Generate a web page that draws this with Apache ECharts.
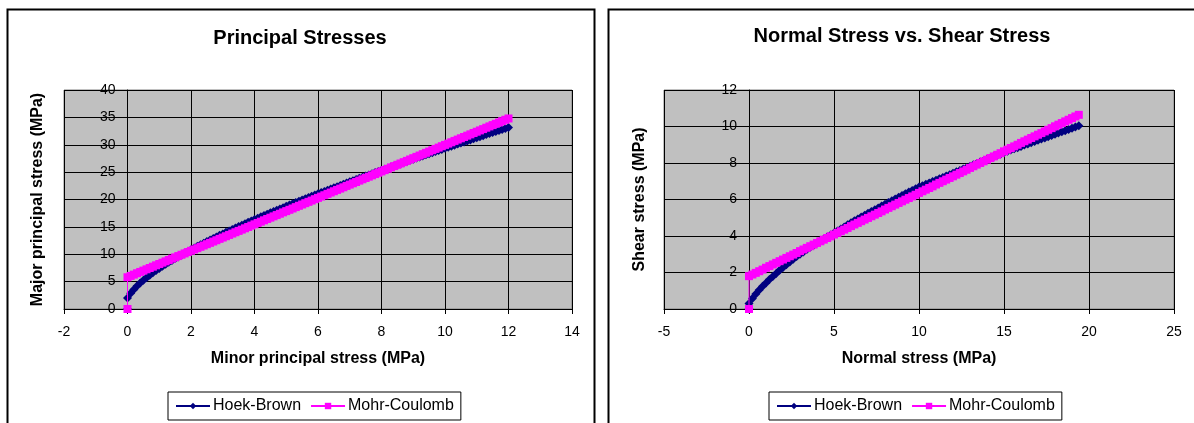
<!DOCTYPE html>
<html>
<head>
<meta charset="utf-8">
<script src="https://cdn.jsdelivr.net/npm/echarts@6/dist/echarts.min.js"></script>
<style>
html,body{margin:0;padding:0;background:#fff;}
#c{width:1194px;height:423px;}
</style>
</head>
<body>
<div id="c"></div>
<script>
// ---- Left chart: Principal Stresses (first point of each series is the origin) ----
var minorStress = [0, 0, 0.1, 0.2, 0.3, 0.4, 0.5, 0.6, 0.7, 0.8, 0.9,
  1.0, 1.1, 1.2, 1.3, 1.4, 1.5, 1.6, 1.7, 1.8, 1.9,
  2.0, 2.1, 2.2, 2.3, 2.4, 2.5, 2.6, 2.7, 2.8, 2.9,
  3.0, 3.1, 3.2, 3.3, 3.4, 3.5, 3.6, 3.7, 3.8, 3.9,
  4.0, 4.1, 4.2, 4.3, 4.4, 4.5, 4.6, 4.7, 4.8, 4.9,
  5.0, 5.1, 5.2, 5.3, 5.4, 5.5, 5.6, 5.7, 5.8, 5.9,
  6.0, 6.1, 6.2, 6.3, 6.4, 6.5, 6.6, 6.7, 6.8, 6.9,
  7.0, 7.1, 7.2, 7.3, 7.4, 7.5, 7.6, 7.7, 7.8, 7.9,
  8.0, 8.1, 8.2, 8.3, 8.4, 8.5, 8.6, 8.7, 8.8, 8.9,
  9.0, 9.1, 9.2, 9.3, 9.4, 9.5, 9.6, 9.7, 9.8, 9.9,
  10.0, 10.1, 10.2, 10.3, 10.4, 10.5, 10.6, 10.7, 10.8, 10.9,
  11.0, 11.1, 11.2, 11.3, 11.4, 11.5, 11.6, 11.7, 11.8, 11.9, 12.0];
var hbMajor = [0, 2.00, 2.87, 3.58, 4.19, 4.74, 5.24, 5.72, 6.17, 6.60, 7.01,
  7.40, 7.79, 8.16, 8.52, 8.87, 9.21, 9.55, 9.88, 10.20, 10.52,
  10.83, 11.14, 11.44, 11.74, 12.03, 12.32, 12.61, 12.89, 13.17, 13.45,
  13.72, 14.00, 14.26, 14.53, 14.79, 15.05, 15.31, 15.57, 15.83, 16.08,
  16.33, 16.58, 16.83, 17.07, 17.32, 17.56, 17.80, 18.04, 18.28, 18.51,
  18.75, 18.98, 19.21, 19.45, 19.68, 19.91, 20.13, 20.36, 20.59, 20.81,
  21.03, 21.26, 21.48, 21.70, 21.92, 22.14, 22.35, 22.57, 22.79, 23.00,
  23.22, 23.43, 23.64, 23.86, 24.07, 24.28, 24.49, 24.70, 24.91, 25.11,
  25.32, 25.53, 25.73, 25.94, 26.14, 26.35, 26.55, 26.75, 26.96, 27.16,
  27.36, 27.56, 27.76, 27.96, 28.16, 28.35, 28.55, 28.75, 28.95, 29.14,
  29.34, 29.53, 29.73, 29.92, 30.12, 30.31, 30.51, 30.70, 30.89, 31.08,
  31.27, 31.46, 31.66, 31.85, 32.04, 32.22, 32.41, 32.60, 32.79, 32.98, 33.17];
var mcMajor = [0, 5.80, 6.04, 6.28, 6.53, 6.77, 7.01, 7.25, 7.49, 7.73, 7.98,
  8.22, 8.46, 8.70, 8.95, 9.19, 9.43, 9.67, 9.91, 10.15, 10.40,
  10.63, 10.87, 11.11, 11.36, 11.60, 11.84, 12.08, 12.32, 12.56, 12.81,
  13.05, 13.29, 13.53, 13.78, 14.02, 14.26, 14.50, 14.74, 14.98, 15.23,
  15.47, 15.71, 15.95, 16.20, 16.44, 16.68, 16.92, 17.16, 17.40, 17.65,
  17.88, 18.12, 18.36, 18.61, 18.85, 19.09, 19.33, 19.57, 19.81, 20.06,
  20.30, 20.54, 20.78, 21.03, 21.27, 21.51, 21.75, 21.99, 22.23, 22.48,
  22.72, 22.96, 23.20, 23.45, 23.69, 23.93, 24.17, 24.41, 24.65, 24.90,
  25.13, 25.37, 25.61, 25.86, 26.10, 26.34, 26.58, 26.82, 27.06, 27.31,
  27.55, 27.79, 28.03, 28.28, 28.52, 28.76, 29.00, 29.24, 29.48, 29.73,
  29.97, 30.21, 30.45, 30.70, 30.94, 31.18, 31.42, 31.66, 31.90, 32.15,
  32.38, 32.62, 32.86, 33.11, 33.35, 33.59, 33.83, 34.07, 34.31, 34.56, 34.80];

// ---- Right chart: Normal Stress vs. Shear Stress (first point is the origin) ----
var normalStress = [0, 0, 0.2, 0.4, 0.6, 0.8, 1.0, 1.2, 1.4, 1.6, 1.8,
  2.0, 2.2, 2.4, 2.6, 2.8, 3.0, 3.2, 3.4, 3.6, 3.8,
  4.0, 4.2, 4.4, 4.6, 4.8, 5.0, 5.2, 5.4, 5.6, 5.8,
  6.0, 6.2, 6.4, 6.6, 6.8, 7.0, 7.2, 7.4, 7.6, 7.8,
  8.0, 8.2, 8.4, 8.6, 8.8, 9.0, 9.2, 9.4, 9.6, 9.8,
  10.0, 10.2, 10.4, 10.6, 10.8, 11.0, 11.2, 11.4, 11.6, 11.8,
  12.0, 12.2, 12.4, 12.6, 12.8, 13.0, 13.2, 13.4, 13.6, 13.8,
  14.0, 14.2, 14.4, 14.6, 14.8, 15.0, 15.2, 15.4, 15.6, 15.8,
  16.0, 16.2, 16.4, 16.6, 16.8, 17.0, 17.2, 17.4, 17.6, 17.8,
  18.0, 18.2, 18.4, 18.6, 18.8, 19.0, 19.2, 19.4];
var hbShear = [0, 0.30, 0.58, 0.82, 1.04, 1.24, 1.43, 1.61, 1.78, 1.95, 2.12,
  2.28, 2.43, 2.58, 2.73, 2.87, 3.00, 3.13, 3.26, 3.38, 3.50,
  3.62, 3.73, 3.84, 3.95, 4.06, 4.17, 4.28, 4.39, 4.50, 4.61,
  4.72, 4.83, 4.93, 5.04, 5.14, 5.24, 5.34, 5.44, 5.54, 5.64,
  5.74, 5.84, 5.93, 6.03, 6.12, 6.22, 6.31, 6.41, 6.50, 6.59,
  6.68, 6.76, 6.83, 6.91, 6.98, 7.06, 7.14, 7.21, 7.29, 7.36,
  7.44, 7.52, 7.59, 7.67, 7.74, 7.82, 7.90, 7.97, 8.05, 8.12,
  8.20, 8.28, 8.35, 8.43, 8.50, 8.58, 8.65, 8.71, 8.78, 8.84,
  8.91, 8.98, 9.04, 9.11, 9.18, 9.24, 9.31, 9.37, 9.44, 9.51,
  9.57, 9.64, 9.71, 9.77, 9.84, 9.90, 9.97, 10.04];
var mcShear = [0, 1.80, 1.89, 1.98, 2.07, 2.16, 2.26, 2.35, 2.44, 2.53, 2.62,
  2.71, 2.80, 2.89, 2.98, 3.07, 3.17, 3.26, 3.35, 3.44, 3.53,
  3.62, 3.71, 3.80, 3.89, 3.98, 4.08, 4.17, 4.26, 4.35, 4.44,
  4.54, 4.63, 4.72, 4.81, 4.90, 4.99, 5.08, 5.17, 5.26, 5.35,
  5.45, 5.54, 5.63, 5.72, 5.81, 5.90, 5.99, 6.08, 6.17, 6.26,
  6.36, 6.45, 6.54, 6.63, 6.72, 6.82, 6.91, 7.00, 7.09, 7.18,
  7.27, 7.36, 7.45, 7.54, 7.63, 7.73, 7.82, 7.91, 8.00, 8.09,
  8.18, 8.27, 8.36, 8.45, 8.54, 8.64, 8.73, 8.82, 8.91, 9.00,
  9.10, 9.19, 9.28, 9.37, 9.46, 9.55, 9.64, 9.73, 9.82, 9.91,
  10.01, 10.10, 10.19, 10.28, 10.37, 10.46, 10.55, 10.64];

var titles = ['Principal Stresses', 'Normal Stress vs. Shear Stress'];
var xNames = ['Minor principal stress (MPa)', 'Normal stress (MPa)'];
var yNames = ['Major principal stress (MPa)', 'Shear stress (MPa)'];
var seriesNames = ['Hoek-Brown', 'Mohr-Coulomb'];

function pairs(xs, ys) { return xs.map(function (x, i) { return [x, ys[i]]; }); }

var FONT = "'Liberation Sans', Arial, sans-serif";
var HB_COLOR = '#000080';
var MC_COLOR = '#FF00FF';

function xAxisCfg(grid, min, max, interval, name) {
  return {
    type: 'value', gridIndex: grid, min: min, max: max, interval: interval,
    name: name, nameLocation: 'middle', nameGap: 42,
    nameTextStyle: { fontFamily: FONT, fontSize: 16, fontWeight: 'bold', color: '#000' },
    axisLine: { show: true, onZero: false, lineStyle: { color: '#000', width: 1 } },
    axisTick: { show: true, length: 5, lineStyle: { color: '#000' } },
    axisLabel: { fontFamily: FONT, fontSize: 14, color: '#000', margin: 16 },
    splitLine: { show: true, lineStyle: { color: '#000', width: 1 } }
  };
}
function yAxisCfg(grid, min, max, interval, name, gap, offset) {
  return {
    type: 'value', gridIndex: grid, min: min, max: max, interval: interval,
    position: 'left', offset: offset,
    name: name, nameLocation: 'middle', nameGap: gap, nameRotate: 90,
    nameTextStyle: { fontFamily: FONT, fontSize: 16, fontWeight: 'bold', color: '#000' },
    axisLine: { show: true, onZero: false, lineStyle: { color: '#000', width: 1 } },
    axisTick: { show: true, length: 5, lineStyle: { color: '#000' } },
    axisLabel: { fontFamily: FONT, fontSize: 14, color: '#000', margin: 12 },
    splitLine: { show: true, lineStyle: { color: '#000', width: 1 } }
  };
}
function hbSeries(xi, data) {
  return {
    name: seriesNames[0], type: 'line', xAxisIndex: xi, yAxisIndex: xi, data: data,
    symbol: 'diamond', symbolSize: 9, showSymbol: true, showAllSymbol: true,
    itemStyle: { color: HB_COLOR }, lineStyle: { color: HB_COLOR, width: 1 },
    z: 2
  };
}
function mcSeries(xi, data) {
  return {
    name: seriesNames[1], type: 'line', xAxisIndex: xi, yAxisIndex: xi, data: data,
    symbol: 'rect', symbolSize: 8, showSymbol: true, showAllSymbol: true,
    itemStyle: { color: MC_COLOR }, lineStyle: { color: MC_COLOR, width: 1 },
    z: 3
  };
}
function legendCfg(left) {
  return {
    data: seriesNames, left: left, top: 392, orient: 'horizontal',
    itemWidth: 34, itemHeight: 8, itemGap: 9,
    padding: [6, 7, 6, 7],
    borderColor: '#000', borderWidth: 1, backgroundColor: '#fff',
    selectedMode: false,
    textStyle: { fontFamily: FONT, fontSize: 16, color: '#000', padding: [0, 0, 0, -2] }
  };
}

var chart = echarts.init(document.getElementById('c'), null, { renderer: 'canvas' });
chart.setOption({
  animation: false,
  backgroundColor: '#fff',
  graphic: [
    { type: 'rect', shape: { x: 7.5, y: 9.5, width: 587, height: 500 }, style: { fill: 'none', stroke: '#000', lineWidth: 2 }, silent: true, z: -10 },
    { type: 'rect', shape: { x: 608.5, y: 9.5, width: 700, height: 500 }, style: { fill: 'none', stroke: '#000', lineWidth: 2 }, silent: true, z: -10 }
  ],
  title: [
    { text: titles[0], left: 300, top: 28, textAlign: 'center', padding: 0,
      textStyle: { fontFamily: FONT, fontSize: 20, fontWeight: 'bold', color: '#000' } },
    { text: titles[1], left: 902, top: 26, textAlign: 'center', padding: 0,
      textStyle: { fontFamily: FONT, fontSize: 20, fontWeight: 'bold', color: '#000' } }
  ],
  legend: [legendCfg(168), legendCfg(769)],
  grid: [
    { left: 64, width: 508, top: 90, height: 219, show: true, backgroundColor: '#C0C0C0', borderColor: '#808080', borderWidth: 1, containLabel: false, outerBoundsMode: 'none' },
    { left: 664, width: 510, top: 90, height: 219, show: true, backgroundColor: '#C0C0C0', borderColor: '#808080', borderWidth: 1, containLabel: false, outerBoundsMode: 'none' }
  ],
  xAxis: [xAxisCfg(0, -2, 14, 2, xNames[0]), xAxisCfg(1, -5, 25, 5, xNames[1])],
  yAxis: [yAxisCfg(0, 0, 40, 5, yNames[0], 82, -63.5), yAxisCfg(1, 0, 12, 2, yNames[1], 101, -85)],
  series: [
    hbSeries(0, pairs(minorStress, hbMajor)),
    mcSeries(0, pairs(minorStress, mcMajor)),
    hbSeries(1, pairs(normalStress, hbShear)),
    mcSeries(1, pairs(normalStress, mcShear))
  ]
});
</script>
</body>
</html>
